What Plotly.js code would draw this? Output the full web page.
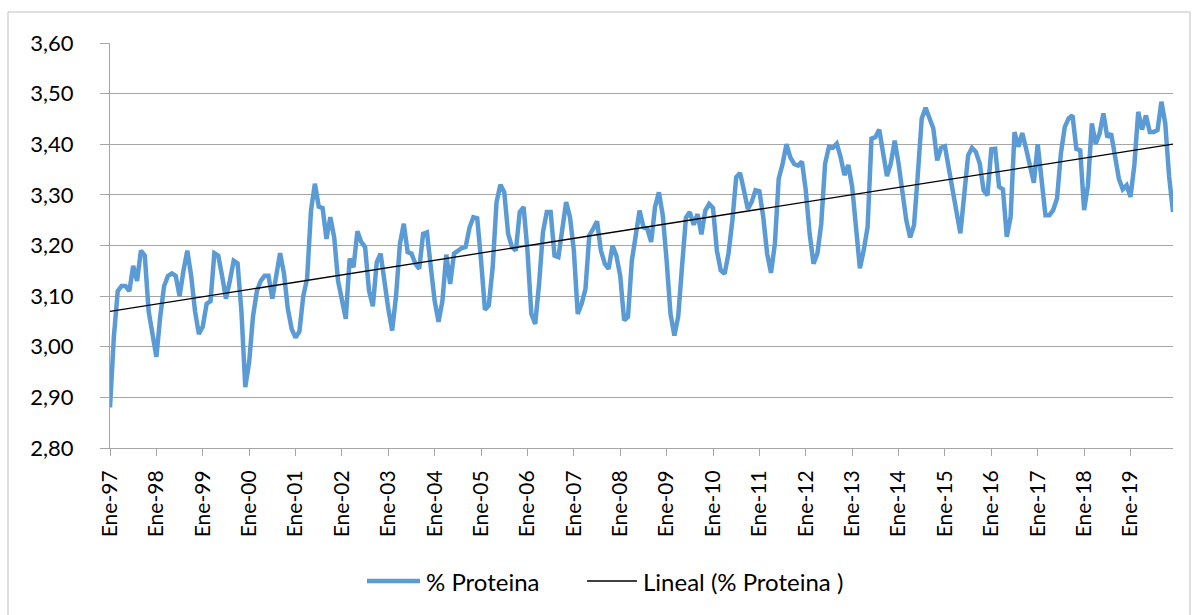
<!DOCTYPE html>
<html>
<head>
<meta charset="utf-8">
<script src="https://cdn.plot.ly/plotly-3.0.1.min.js"></script>
<style>
  html, body { margin: 0; padding: 0; background: #fff; }
  #chart { width: 1192px; height: 615px; }
</style>
</head>
<body>
<div id="chart"></div>
<script>
// Monthly % protein, Jan 1997 .. Dec 2019 (one row per year)
const proteina = [
  2.88, 3.02, 3.11, 3.12, 3.12, 3.11, 3.16, 3.13, 3.19, 3.18, 3.07, 3.02,      // 1997
  2.98, 3.06, 3.12, 3.14, 3.145, 3.14, 3.10, 3.15, 3.19, 3.14, 3.07, 3.025,    // 1998
  3.04, 3.085, 3.09, 3.185, 3.18, 3.14, 3.095, 3.13, 3.17, 3.165, 3.07, 2.92,  // 1999
  2.97, 3.06, 3.11, 3.13, 3.14, 3.14, 3.095, 3.14, 3.185, 3.145, 3.075, 3.035, // 2000
  3.018, 3.03, 3.10, 3.135, 3.269, 3.322, 3.277, 3.274, 3.213, 3.256, 3.216, 3.13, // 2001
  3.09, 3.055, 3.174, 3.157, 3.228, 3.207, 3.197, 3.111, 3.08, 3.167, 3.184, 3.124, // 2002
  3.075, 3.032, 3.10, 3.203, 3.243, 3.187, 3.184, 3.164, 3.154, 3.223, 3.226, 3.157, // 2003
  3.09, 3.049, 3.091, 3.182, 3.124, 3.184, 3.19, 3.195, 3.197, 3.235, 3.256, 3.254, // 2004
  3.17, 3.073, 3.082, 3.157, 3.286, 3.32, 3.305, 3.223, 3.197, 3.19, 3.266, 3.276,  // 2005
  3.19, 3.065, 3.045, 3.124, 3.226, 3.266, 3.266, 3.18, 3.177, 3.236, 3.286, 3.256, // 2006
  3.19, 3.065, 3.085, 3.114, 3.22, 3.233, 3.248, 3.19, 3.164, 3.154, 3.20, 3.18,    // 2007
  3.14, 3.052, 3.059, 3.17, 3.223, 3.269, 3.236, 3.233, 3.207, 3.276, 3.305, 3.26,  // 2008
  3.17, 3.065, 3.022, 3.06, 3.16, 3.255, 3.266, 3.241, 3.262, 3.222, 3.269, 3.282,  // 2009
  3.274, 3.19, 3.151, 3.144, 3.184, 3.249, 3.335, 3.343, 3.309, 3.272, 3.286, 3.309, // 2010
  3.307, 3.256, 3.184, 3.146, 3.203, 3.332, 3.361, 3.40, 3.374, 3.361, 3.358, 3.366, // 2011
  3.309, 3.223, 3.164, 3.184, 3.243, 3.362, 3.395, 3.393, 3.401, 3.375, 3.339, 3.359, // 2012
  3.316, 3.23, 3.155, 3.191, 3.237, 3.411, 3.414, 3.429, 3.382, 3.337, 3.362, 3.407, // 2013
  3.362, 3.30, 3.25, 3.216, 3.24, 3.342, 3.451, 3.472, 3.454, 3.431, 3.368, 3.393,   // 2014
  3.396, 3.349, 3.309, 3.266, 3.224, 3.309, 3.378, 3.393, 3.385, 3.362, 3.309, 3.299, // 2015
  3.39, 3.391, 3.316, 3.311, 3.217, 3.257, 3.424, 3.395, 3.422, 3.391, 3.359, 3.324,  // 2016
  3.40, 3.332, 3.26, 3.26, 3.27, 3.293, 3.382, 3.434, 3.451, 3.457, 3.391, 3.388,     // 2017
  3.27, 3.319, 3.441, 3.401, 3.421, 3.461, 3.414, 3.421, 3.375, 3.332, 3.311, 3.319,  // 2018
  3.296, 3.359, 3.464, 3.429, 3.457, 3.424, 3.424, 3.428, 3.484, 3.441, 3.336, 3.266  // 2019
];

const tickLabels = ["Ene-97","Ene-98","Ene-99","Ene-00","Ene-01","Ene-02","Ene-03","Ene-04",
  "Ene-05","Ene-06","Ene-07","Ene-08","Ene-09","Ene-10","Ene-11","Ene-12","Ene-13","Ene-14",
  "Ene-15","Ene-16","Ene-17","Ene-18","Ene-19"];

const seriesName = "% Proteina";
const trendName = "Lineal (% Proteina )";

// month index for each observation
const monthIdx = proteina.map((_, i) => i);
const tickVals = tickLabels.map((_, k) => k * 12);

// least-squares linear trend (as Excel "Lineal")
const n = proteina.length;
let sx = 0, sy = 0, sxx = 0, sxy = 0;
for (let i = 0; i < n; i++) { sx += i; sy += proteina[i]; sxx += i * i; sxy += i * proteina[i]; }
const slope = (n * sxy - sx * sy) / (n * sxx - sx * sx);
const intercept = (sy - slope * sx) / n;
const trendX = [0, n - 1];
const trendY = trendX.map(x => intercept + slope * x);

const W = 1192, H = 615, L = 110, R = 19, T = 43, B = 167;
const pw = W - L - R, ph = H - T - B;
const px = x => (x - L) / pw;
const py = y => 1 - (y - T) / ph;

const FONT = "Lato, 'Open Sans', sans-serif";
const GRID = "#a6a6a6";

const traces = [
  {
    x: monthIdx, y: proteina, type: "scatter", mode: "lines", name: seriesName,
    line: { color: "#5B9BD5", width: 4.5 }, hoverinfo: "skip"
  },
  {
    x: trendX, y: trendY, type: "scatter", mode: "lines", name: trendName,
    line: { color: "#000000", width: 1.3 }, hoverinfo: "skip"
  }
];

const layout = {
  width: W, height: H,
  margin: { l: L, r: R, t: T, b: B, pad: 0 },
  paper_bgcolor: "#ffffff", plot_bgcolor: "#ffffff",
  separators: ",.",
  showlegend: false,
  font: { family: FONT, color: "#000000", size: 22 },
  xaxis: {
    type: "linear", range: [0, n - 1], fixedrange: true,
    tickmode: "array", tickvals: tickVals, ticktext: tickLabels,
    tickangle: -90, ticks: "outside", ticklen: 7, tickcolor: GRID, tickwidth: 1,
    showline: true, linecolor: GRID, linewidth: 1,
    showgrid: false, zeroline: false,
    tickfont: { family: FONT, size: 21, color: "#000000" },
    ticklabelstandoff: 6
  },
  yaxis: {
    range: [2.8, 3.6], dtick: 0.1, tick0: 2.8, tickformat: ".2f", fixedrange: true,
    ticks: "outside", ticklen: 9, tickcolor: GRID, tickwidth: 1,
    showline: true, linecolor: GRID, linewidth: 1,
    showgrid: true, gridcolor: GRID, gridwidth: 1, zeroline: false,
    tickfont: { family: FONT, size: 22, color: "#000000" },
    ticklabelstandoff: 22
  },
  shapes: [
    { type: "rect", xref: "paper", yref: "paper", x0: px(8), x1: px(1190), y0: py(640), y1: py(12),
      line: { color: "#bfbfbf", width: 1 }, fillcolor: "rgba(0,0,0,0)", layer: "below" },
    { type: "line", xref: "paper", yref: "paper", x0: px(367), x1: px(420), y0: py(581), y1: py(581),
      line: { color: "#5B9BD5", width: 4.5 } },
    { type: "line", xref: "paper", yref: "paper", x0: px(587), x1: px(637), y0: py(581), y1: py(581),
      line: { color: "#000000", width: 1.3 } }
  ],
  annotations: [
    { xref: "paper", yref: "paper", x: px(424), y: py(581), xanchor: "left", yanchor: "middle",
      text: seriesName, showarrow: false, font: { family: FONT, size: 24, color: "#000000" } },
    { xref: "paper", yref: "paper", x: px(641), y: py(581), xanchor: "left", yanchor: "middle",
      text: trendName, showarrow: false, font: { family: FONT, size: 24, color: "#000000" } }
  ],
  hovermode: false
};

Plotly.newPlot("chart", traces, layout, { displayModeBar: false, staticPlot: true });
</script>
</body>
</html>
